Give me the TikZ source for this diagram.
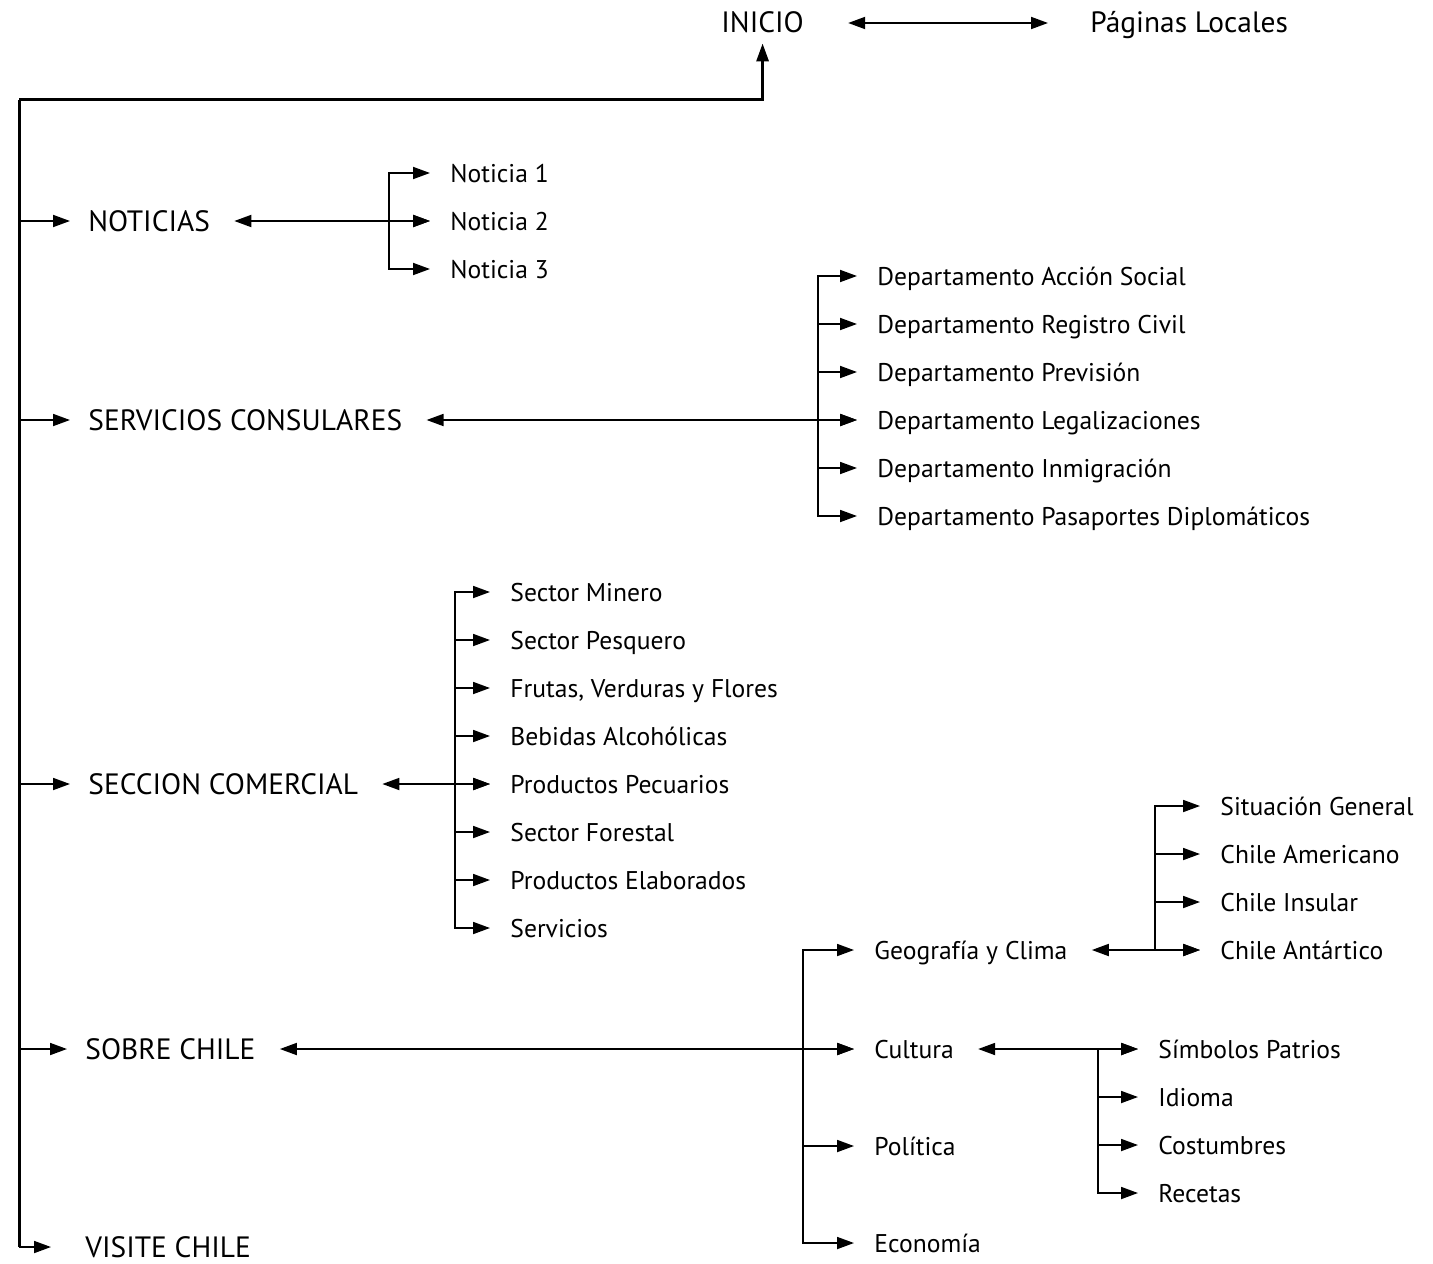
\documentclass[tikz,border=0pt]{standalone}
\usepackage{fontspec}
\setmainfont{PT Sans}
\usetikzlibrary{arrows.meta, positioning, calc}

\begin{document}
\begin{tikzpicture}[x=0.5pt, y=-0.5pt,
    item/.style={anchor=west, inner sep=0pt, text height=9pt, text depth=0pt,
      font=\fontsize{12.8}{15}\selectfont},
    head/.style={item, text height=10pt, font=\fontsize{14.7}{17}\selectfont},
    link/.style={line width=0.9pt, -{Triangle[length=8.5pt,width=6pt]}, shorten >=10pt},
    twoway/.style={line width=0.9pt,
      {Triangle[length=8.5pt,width=6pt]}-{Triangle[length=8.5pt,width=6pt]},
      shorten <=12pt, shorten >=10pt},
    spine/.style={line width=1.5pt}]
  \useasboundingbox (0,0) rectangle (1433,1263);
  % top
  \node[head] (inicio) at (721,23) {INICIO};
  \node[head] (paginas) at (1090,23) {Páginas Locales};
  \draw[twoway, shorten <=22pt, shorten >=21pt] (inicio.east) -- (paginas.west);
  % main sections
  \node[head] (noticias) at (88,221) {NOTICIAS};
  \node[head] (servicios) at (88,420) {SERVICIOS CONSULARES};
  \node[head] (comercial) at (88,784) {SECCION COMERCIAL};
  \node[head] (sobre) at (85,1049) {SOBRE CHILE};
  \node[head] (visite) at (85,1247) {VISITE CHILE};
  % noticias
  \node[item] (not1) at (450,173) {Noticia 1};
  \node[item] (not2) at (450,221) {Noticia 2};
  \node[item] (not3) at (450,269) {Noticia 3};
  % servicios consulares
  \node[item] (dep1) at (877,276) {Departamento Acción Social};
  \node[item] (dep2) at (877,324) {Departamento Registro Civil};
  \node[item] (dep3) at (877,372) {Departamento Previsión};
  \node[item] (dep4) at (877,420) {Departamento Legalizaciones};
  \node[item] (dep5) at (877,468) {Departamento Inmigración};
  \node[item] (dep6) at (877,516) {Departamento Pasaportes Diplomáticos};
  % seccion comercial
  \node[item] (sec1) at (510,592) {Sector Minero};
  \node[item] (sec2) at (510,640) {Sector Pesquero};
  \node[item] (sec3) at (510,688) {Frutas, Verduras y Flores};
  \node[item] (sec4) at (510,736) {Bebidas Alcohólicas};
  \node[item] (sec5) at (510,784) {Productos Pecuarios};
  \node[item] (sec6) at (510,832) {Sector Forestal};
  \node[item] (sec7) at (510,880) {Productos Elaborados};
  \node[item] (sec8) at (510,928) {Servicios};
  % sobre chile
  \node[item] (geo) at (874,950) {Geografía y Clima};
  \node[item] (cultura) at (874,1049) {Cultura};
  \node[item] (politica) at (874,1146) {Política};
  \node[item] (economia) at (874,1243) {Economía};
  \node[item] (geo1) at (1220,806) {Situación General};
  \node[item] (geo2) at (1220,854) {Chile Americano};
  \node[item] (geo3) at (1220,902) {Chile Insular};
  \node[item] (geo4) at (1220,950) {Chile Antártico};
  \node[item] (cul1) at (1158,1049) {Símbolos Patrios};
  \node[item] (cul2) at (1158,1097) {Idioma};
  \node[item] (cul3) at (1158,1145) {Costumbres};
  \node[item] (cul4) at (1158,1193) {Recetas};
  % bus points
  \coordinate (top) at (19,100);
  \coordinate (nbus) at (389,221);
  \coordinate (dbus) at (818,420);
  \coordinate (sbus) at (455,784);
  \coordinate (cbus) at (803,1049);
  \coordinate (gbus) at (1155,950);
  \coordinate (ubus) at (1098,1049);
  % spine
  \draw[spine, -{Triangle[length=9pt,width=6pt]}, shorten >=5pt] (top) -| (inicio.south);
  \draw[spine] (top) -- (top |- visite.west);
  \draw[link, shorten >=17pt] (top |- visite.west) -- (visite.west);
  \foreach \n in {noticias, servicios, comercial, sobre}
    \draw[link, shorten >=9pt] (top |- \n.west) -- (\n.west);
  % connectors
  \draw[twoway] (noticias.east) -- (not2.west);
  \foreach \n in {not1, not2, not3} \draw[link] (nbus) |- (\n.west);
  \draw[twoway] (servicios.east) -- (dep4.west);
  \foreach \n in {dep1, dep2, dep3, dep4, dep5, dep6} \draw[link] (dbus) |- (\n.west);
  \draw[twoway] (comercial.east) -- (sec5.west);
  \foreach \n in {sec1, sec2, sec3, sec4, sec5, sec6, sec7, sec8} \draw[link] (sbus) |- (\n.west);
  \draw[twoway] (sobre.east) -- (cultura.west);
  \foreach \n in {geo, cultura, politica, economia} \draw[link] (cbus) |- (\n.west);
  \draw[twoway] (geo.east) -- (geo4.west);
  \foreach \n in {geo1, geo2, geo3, geo4} \draw[link] (gbus) |- (\n.west);
  \draw[twoway] (cultura.east) -- (cul1.west);
  \foreach \n in {cul1, cul2, cul3, cul4} \draw[link] (ubus) |- (\n.west);
\end{tikzpicture}
\end{document}
